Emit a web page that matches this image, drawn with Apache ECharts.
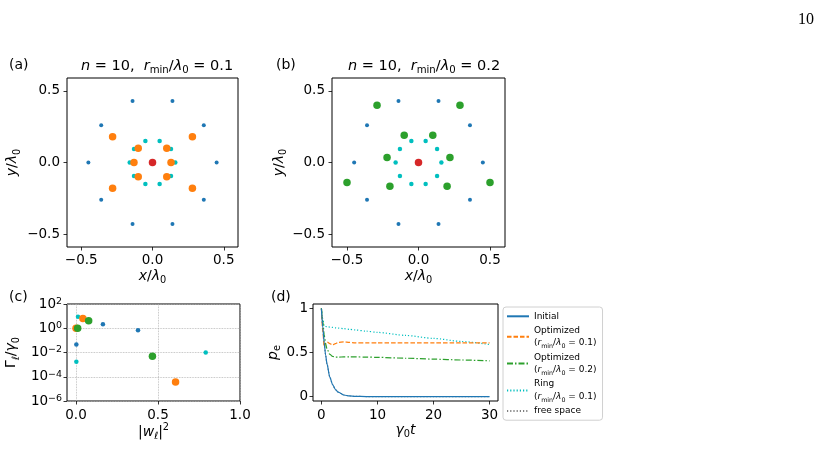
<!DOCTYPE html>
<html>
<head>
<meta charset="utf-8">
<script src="https://cdn.jsdelivr.net/npm/echarts@6/dist/echarts.min.js"></script>
<style>
html,body{margin:0;padding:0;background:#fff;}
#main{width:819px;height:449px;}
</style>
</head>
<body>
<div id="main"></div>
<script>
// 外圈 / 内圈 原子位置 (a)(b) 共用
var outerX = [0.45, 0.36, 0.14, -0.14, -0.36, -0.45, -0.36, -0.14, 0.14, 0.36];
var outerY = [0, 0.26, 0.43, 0.43, 0.26, 0, -0.26, -0.43, -0.43, -0.26];
var innerX = [0.16, 0.13, 0.05, -0.05, -0.13, -0.16, -0.13, -0.05, 0.05, 0.13];
var innerY = [0, 0.095, 0.15, 0.15, 0.095, 0, -0.095, -0.15, -0.15, -0.095];
// 优化后的位置
var optAX = [0.13, 0.10, -0.10, -0.13, -0.10, 0.10, 0.28, -0.28, -0.28, 0.28];
var optAY = [0, 0.10, 0.10, 0, -0.10, -0.10, 0.18, 0.18, -0.18, -0.18];
var optBX = [0.29, -0.29, 0.10, -0.10, 0.22, -0.22, 0.50, -0.50, 0.20, -0.20];
var optBY = [0.40, 0.40, 0.19, 0.19, 0.035, 0.035, -0.14, -0.14, -0.165, -0.165];
var centerX = [0];
var centerY = [0];
var axisTicksXY = [-0.5, 0, 0.5];

// (c) |w|^2 与 Gamma/gamma0
var cBlueW = [0.164, 0.378, 0.002];
var cBlueG = [2.1, 0.7, 0.045];
var cCyanW = [0.012, 0.002, 0.791];
var cCyanG = [9, 0.0017, 0.01];
var cOrangeW = [0.042, 0.0, 0.607];
var cOrangeG = [6.5, 1.0, 3.7e-5];
var cGreenW = [0.077, 0.01, 0.466];
var cGreenG = [4.2, 1.0, 0.005];
var cTicksX = [0, 0.5, 1.0];
var cTicksY = [1e-6, 1e-4, 1e-2, 1, 100];

// (d) p_e(t)
var tVals = [0, 0.25, 0.5, 0.75, 1, 1.5, 2, 2.5, 3, 4, 5, 6, 8, 10, 15, 20, 25, 30];
var pInitial = [1, 0.78, 0.61, 0.47, 0.37, 0.22, 0.135, 0.08, 0.05, 0.018, 0.007, 0.0025, 0.0005, 0, 0, 0, 0, 0];
var pOpt1 = [1, 0.74, 0.56, 0.6, 0.62, 0.6, 0.585, 0.6, 0.615, 0.62, 0.615, 0.61, 0.61, 0.61, 0.61, 0.61, 0.61, 0.61];
var pOpt2 = [1, 0.85, 0.7, 0.6, 0.54, 0.48, 0.455, 0.448, 0.448, 0.45, 0.45, 0.45, 0.448, 0.445, 0.435, 0.425, 0.415, 0.405];
var pRing = [1, 0.88, 0.8, 0.795, 0.792, 0.788, 0.784, 0.78, 0.776, 0.77, 0.763, 0.756, 0.742, 0.728, 0.694, 0.66, 0.625, 0.59];
var pFree = [1, 0.78, 0.61, 0.47, 0.37, 0.22, 0.135, 0.08, 0.05, 0.018, 0.007, 0.0025, 0.0005, 0, 0, 0, 0, 0];
var dTicksX = [0, 10, 20, 30];
var dTicksY = [0, 0.5, 1];

var FONT = 'DejaVu Sans';
var C_BLUE = '#1f77b4', C_ORANGE = '#ff7f0e', C_GREEN = '#2ca02c', C_RED = '#d62728', C_CYAN = '#00bfbf';

window.onload = function () {
    echart();
};

function zip(xs, ys) {
    var out = [];
    for (var i = 0; i < xs.length; i++) {
        out.push([xs[i], ys[i]]);
    }
    return out;
}

// 上下标用的 rich 样式
function mathRich(size) {
    var lh = size * 1.35;
    return {
        i: {fontStyle: 'italic', fontSize: size, fontFamily: FONT, color: '#000', lineHeight: lh},
        n: {fontSize: size, fontFamily: FONT, color: '#000', lineHeight: lh},
        sub: {fontSize: size * 0.7, fontFamily: FONT, color: '#000', verticalAlign: 'bottom', lineHeight: size * 0.75},
        subi: {fontSize: size * 0.7, fontStyle: 'italic', fontFamily: FONT, color: '#000', verticalAlign: 'bottom', lineHeight: size * 0.75},
        sup: {fontSize: size * 0.7, fontFamily: FONT, color: '#000', verticalAlign: 'top', lineHeight: size * 0.75}
    };
}

function fmtSigned(v) {
    if (Math.abs(v) < 1e-9) return '0.0';
    return v < 0 ? '\u2212' + Math.abs(v).toFixed(1) : v.toFixed(1);
}

function valueAxis(grid, min, max, ticks, fmt, name, nameGap, isY, margin) {
    return {
        type: 'value',
        gridIndex: grid,
        min: min,
        max: max,
        name: name,
        nameLocation: 'middle',
        nameGap: nameGap,
        nameRotate: isY ? 90 : 0,
        nameTextStyle: {fontSize: 14, fontFamily: FONT, color: '#000', rich: mathRich(14)},
        axisLine: {show: false, onZero: false},
        axisTick: {show: true, inside: false, length: 3.5, customValues: ticks, lineStyle: {color: '#000', width: 0.8}},
        axisLabel: {show: true, customValues: ticks, formatter: fmt, fontSize: 13.5, fontFamily: FONT, color: '#000', margin: margin},
        splitLine: {show: false}
    };
}

function scatter(name, grid, data, color, size, z) {
    return {
        name: name,
        type: 'scatter',
        xAxisIndex: grid,
        yAxisIndex: grid,
        data: data,
        symbolSize: size,
        itemStyle: {color: color, opacity: 1},
        z: z
    };
}

function lineSeries(name, ys, color, type, z) {
    return {
        name: name,
        type: 'line',
        xAxisIndex: 3,
        yAxisIndex: 3,
        data: zip(tVals, ys),
        symbol: 'none',
        showSymbol: false,
        smooth: 0.25,
        smoothMonotone: 'x',
        lineStyle: {color: color, width: 1.2, type: type},
        itemStyle: {color: color},
        z: z
    };
}

function echart() {
    var myChart = echarts.init(document.getElementById('main'), null, {renderer: 'canvas'});

    var gridBox = {show: true, borderColor: '#000', borderWidth: 1, backgroundColor: 'transparent'};
    var letterStyle = {fontSize: 14, fontFamily: FONT, color: '#000', fontWeight: 'normal'};

    var legendNames = {
        'Initial': 'Initial',
        'Opt1': 'Optimized\n({i|r}{sub|min}/{i|λ}{sub|0} = 0.1)',
        'Opt2': 'Optimized\n({i|r}{sub|min}/{i|λ}{sub|0} = 0.2)',
        'Ring': 'Ring\n({i|r}{sub|min}/{i|λ}{sub|0} = 0.1)',
        'free space': 'free space'
    };

    var legendRich = mathRich(9);
    legendRich.i.lineHeight = 12.6;
    legendRich.n.lineHeight = 12.6;

    var titleRich = mathRich(14.5);

    var option = {
        animation: false,
        backgroundColor: '#fff',
        title: [
            {text: '10', left: 793, top: 7, textStyle: {fontSize: 16, fontFamily: 'Liberation Serif', color: '#000', fontWeight: 'normal'}},
            {text: '(a)', left: 4, top: 53, textStyle: letterStyle},
            {text: '(b)', left: 271, top: 53, textStyle: letterStyle},
            {text: '(c)', left: 4, top: 285, textStyle: letterStyle},
            {text: '(d)', left: 266, top: 285, textStyle: letterStyle},
            {text: '{i|n} = 10,  {i|r}{sub|min}/{i|λ}{sub|0} = 0.1', left: 152, textAlign: 'center', top: 51,
                textStyle: {fontSize: 14.5, fontFamily: FONT, color: '#000', fontWeight: 'normal', rich: titleRich}},
            {text: '{i|n} = 10,  {i|r}{sub|min}/{i|λ}{sub|0} = 0.2', left: 419, textAlign: 'center', top: 51,
                textStyle: {fontSize: 14.5, fontFamily: FONT, color: '#000', fontWeight: 'normal', rich: titleRich}}
        ],
        legend: {
            data: ['Initial', 'Opt1', 'Opt2', 'Ring', 'free space'],
            orient: 'vertical',
            left: 503,
            top: 307,
            padding: [3, 6, 3, 3],
            itemGap: 1.6,
            itemWidth: 22,
            itemHeight: 8,
            borderColor: '#d0d0d0',
            borderWidth: 1,
            borderRadius: 3,
            backgroundColor: '#fff',
            itemStyle: {opacity: 0},
            formatter: function (name) {
                return legendNames[name];
            },
            textStyle: {fontSize: 9, fontFamily: FONT, color: '#000', lineHeight: 12.6, rich: legendRich}
        },
        grid: [
            echarts.util.extend({left: 67, top: 78, width: 171, height: 169}, gridBox),
            echarts.util.extend({left: 332, top: 78, width: 173, height: 169}, gridBox),
            echarts.util.extend({left: 67, top: 304, width: 173, height: 97}, gridBox),
            echarts.util.extend({left: 313, top: 304, width: 185, height: 97}, gridBox)
        ],
        xAxis: [
            valueAxis(0, -0.6, 0.6, axisTicksXY, fmtSigned, '{i|x}/{i|λ}{sub|0}', 20, false, 6),
            valueAxis(1, -0.605, 0.605, axisTicksXY, fmtSigned, '{i|x}/{i|λ}{sub|0}', 20, false, 6),
            (function () {
                var a = valueAxis(2, -0.055, 1.0, cTicksX, function (v) { return v.toFixed(1); },
                    '|{i|w}{subi|ℓ}|{sup|2}', 21, false, 7);
                a.splitLine = {show: true, lineStyle: {color: '#b0b0b0', type: 'dotted', width: 0.8}};
                return a;
            })(),
            valueAxis(3, -1.5, 31.5, dTicksX, function (v) { return String(v); }, '{i|γ}{sub|0}{i|t}', 19, false, 7)
        ],
        yAxis: [
            valueAxis(0, -0.59, 0.59, axisTicksXY, fmtSigned, '{i|y}/{i|λ}{sub|0}', 45, true, 7),
            valueAxis(1, -0.59, 0.59, axisTicksXY, fmtSigned, '{i|y}/{i|λ}{sub|0}', 33, true, 7),
            (function () {
                var a = valueAxis(2, 1e-6, 100, cTicksY, function (v) {
                    var e = Math.round(Math.log(v) / Math.LN10);
                    return '10{sup|' + (e < 0 ? '\u2212' + (-e) : e) + '}';
                }, 'Γ{subi|ℓ}/{i|γ}{sub|0}', 46, true, 5);
                a.type = 'log';
                a.logBase = 10;
                a.axisLabel.rich = mathRich(13.5);
                a.splitLine = {show: true, lineStyle: {color: '#b0b0b0', type: 'dotted', width: 0.8}};
                return a;
            })(),
            valueAxis(3, -0.05, 1.05, dTicksY, function (v) {
                return v === 0.5 ? '0.5' : String(v);
            }, '{i|p}{sub|e}', 28, true, 5)
        ],
        series: [
            // (a)
            scatter('a-outer', 0, zip(outerX, outerY), C_BLUE, 4, 2),
            scatter('a-inner', 0, zip(innerX, innerY), C_CYAN, 4.5, 3),
            scatter('a-opt', 0, zip(optAX, optAY), C_ORANGE, 7.5, 4),
            scatter('a-center', 0, zip(centerX, centerY), C_RED, 7.5, 5),
            // (b)
            scatter('b-outer', 1, zip(outerX, outerY), C_BLUE, 4, 2),
            scatter('b-inner', 1, zip(innerX, innerY), C_CYAN, 4.5, 3),
            scatter('b-opt', 1, zip(optBX, optBY), C_GREEN, 7.5, 4),
            scatter('b-center', 1, zip(centerX, centerY), C_RED, 7.5, 5),
            // (c)
            scatter('c-blue', 2, zip(cBlueW, cBlueG), C_BLUE, 4.5, 2),
            scatter('c-cyan', 2, zip(cCyanW, cCyanG), C_CYAN, 4.5, 3),
            scatter('c-orange', 2, zip(cOrangeW, cOrangeG), C_ORANGE, 7.5, 4),
            scatter('c-green', 2, zip(cGreenW, cGreenG), C_GREEN, 7.5, 5),
            // (d)
            lineSeries('free space', pFree, '#7f7f7f', [1.2, 2], 2),
            lineSeries('Initial', pInitial, C_BLUE, 'solid', 6),
            lineSeries('Opt1', pOpt1, C_ORANGE, [4.5, 2], 4),
            lineSeries('Opt2', pOpt2, C_GREEN, [6, 2, 1.5, 2], 4),
            lineSeries('Ring', pRing, C_CYAN, [1.2, 2], 3)
        ]
    };

    myChart.setOption(option);
}
</script>
</body>
</html>
